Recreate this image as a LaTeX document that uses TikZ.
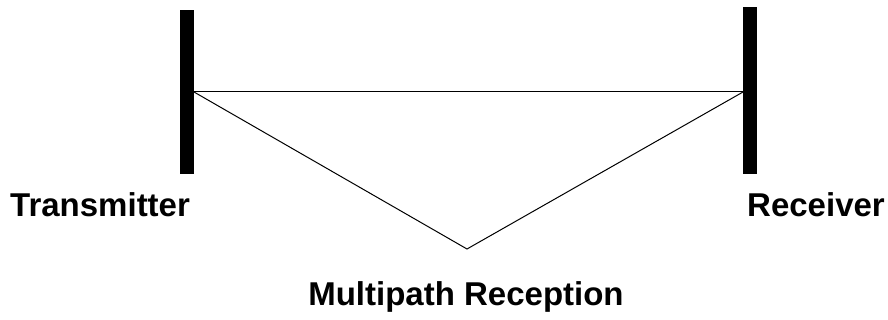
\documentclass[tikz,border=0pt]{standalone}
\usepackage{fontspec}
\setmainfont{Liberation Sans}
\begin{document}
\begin{tikzpicture}[x=1pt,y=-1pt,
  bar/.style={draw=none,fill=black,rectangle,inner sep=0pt,minimum width=14pt},
  lbl/.style={inner sep=0pt,font=\fontsize{33}{33}\selectfont\bfseries},
  path/.style={line width=1pt,black}]
\useasboundingbox (0,0) rectangle (888,320);
\node[bar,minimum height=164pt] (tx) at (187,92) {};
\node[bar,minimum height=167pt] (rx) at (750,90.5) {};
\coordinate (a) at (194,92);
\coordinate (b) at (743,92);
\coordinate (v) at (467,249);
\draw[path] (a) -- (b);
\draw[path] (a) -- (v) -- (b);
\node[lbl,anchor=base west] (tl) at (10,217) {Transmitter};
\node[lbl,anchor=base west] (rl) at (747,217) {Receiver};
\node[lbl,anchor=base] (ml) at (466,305) {Multipath Reception};
\end{tikzpicture}
\end{document}
